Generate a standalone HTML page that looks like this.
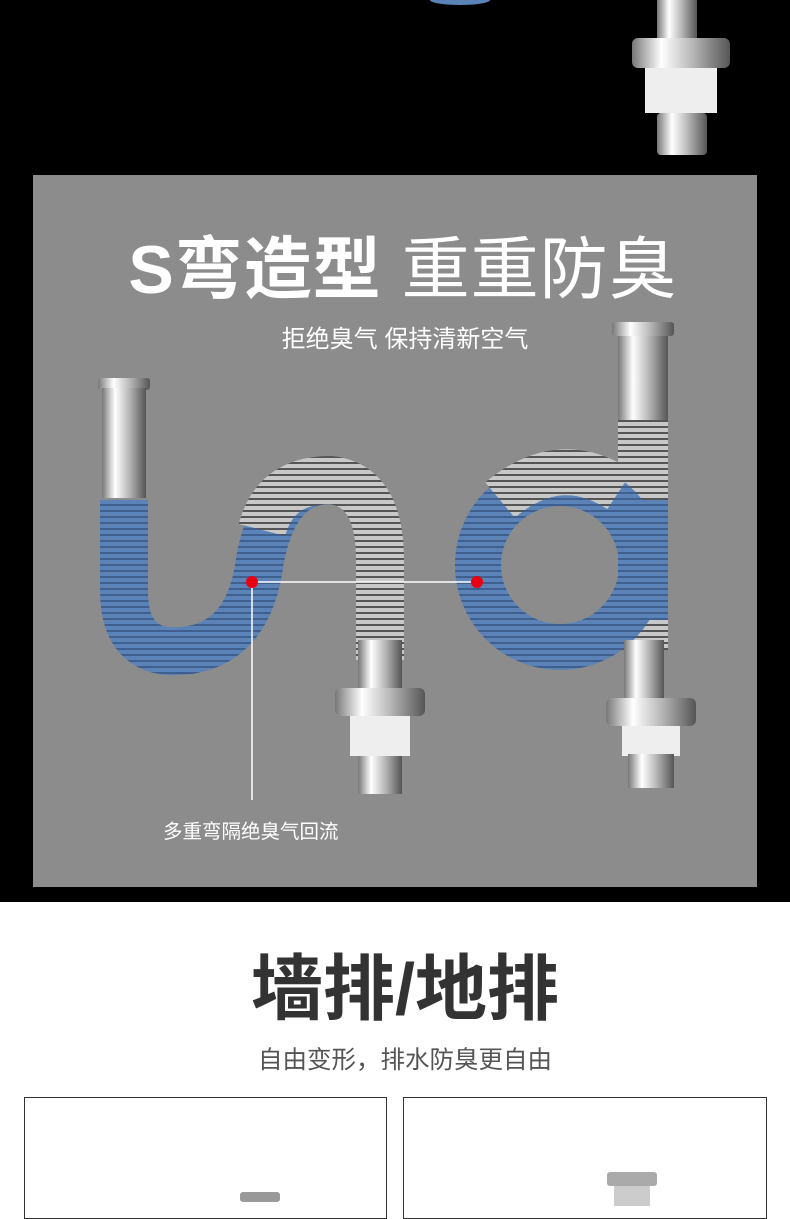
<!DOCTYPE html>
<html><head><meta charset="utf-8"><style>
body{margin:0;width:790px;height:1200px;overflow:hidden;background:#fff;font-family:"Liberation Sans","Noto Sans CJK SC",sans-serif;position:relative}
.abs{position:absolute}
</style></head><body>
<div class="abs" style="left:0;top:0;width:790px;height:902px;background:#000"></div>
<div class="abs" style="left:33px;top:175px;width:724px;height:712px;background:#8c8c8c"></div>
<svg class="abs" style="left:0;top:0" width="790" height="902">
<defs>
<linearGradient id="ch" x1="0" x2="1"><stop offset="0" stop-color="#777"/><stop offset=".3" stop-color="#fff"/><stop offset=".6" stop-color="#bbb"/><stop offset="1" stop-color="#555"/></linearGradient>
<pattern id="rib" width="6" height="6" patternUnits="userSpaceOnUse"><rect width="6" height="6" fill="#5b83b8"/><rect width="6" height="2" fill="#3f5f8f"/></pattern>
<pattern id="ribg" width="6" height="6" patternUnits="userSpaceOnUse"><rect width="6" height="6" fill="#c8c8c8"/><rect width="6" height="2" fill="#555"/></pattern>
</defs>
<ellipse cx="460" cy="0" rx="30" ry="5" fill="#5b83b8"/>
<rect x="657" y="0" width="40" height="40" fill="url(#ch)"/>
<rect x="632" y="38" width="98" height="30" rx="6" fill="url(#ch)"/>
<rect x="645" y="68" width="72" height="45" fill="#eee"/>
<rect x="657" y="113" width="50" height="42" rx="4" fill="url(#ch)"/>
<rect x="98" y="378" width="52" height="12" rx="3" fill="url(#ch)"/>
<rect x="102" y="388" width="44" height="110" fill="url(#ch)"/>
<path d="M124 500 L124 590 Q124 660 190 650 Q250 640 260 560 Q275 480 330 480 Q380 485 380 560 L380 660" fill="none" stroke="url(#rib)" stroke-width="48"/>
<path d="M262 530 Q275 480 330 480 Q380 485 380 560 L380 660" fill="none" stroke="url(#ribg)" stroke-width="48"/>
<rect x="358" y="640" width="44" height="50" fill="url(#ch)"/>
<rect x="335" y="688" width="90" height="28" rx="6" fill="url(#ch)"/>
<rect x="350" y="716" width="60" height="40" fill="#eee"/>
<rect x="358" y="756" width="44" height="38" fill="url(#ch)"/>
<rect x="612" y="322" width="62" height="14" rx="3" fill="url(#ch)"/>
<rect x="618" y="336" width="50" height="90" fill="url(#ch)"/>
<rect x="618" y="420" width="50" height="230" fill="url(#ribg)"/>
<rect x="618" y="500" width="50" height="120" fill="url(#rib)"/>
<circle cx="560" cy="565" r="82" fill="none" stroke="url(#rib)" stroke-width="46"/>
<path d="M500 500 Q560 450 620 490" fill="none" stroke="url(#ribg)" stroke-width="46"/>
<rect x="624" y="640" width="40" height="60" fill="url(#ch)"/>
<rect x="606" y="698" width="90" height="28" rx="6" fill="url(#ch)"/>
<rect x="622" y="726" width="58" height="30" fill="#eee"/>
<rect x="628" y="754" width="46" height="34" fill="url(#ch)"/>
<line x1="252" y1="582" x2="477" y2="582" stroke="#fff" stroke-width="1.5"/>
<line x1="252" y1="582" x2="252" y2="800" stroke="#fff" stroke-width="1.5"/>
<circle cx="252" cy="582" r="6" fill="#e60012"/>
<circle cx="477" cy="582" r="6" fill="#e60012"/>
</svg>
<div class="abs" style="left:8px;width:790px;top:225px;text-align:center;color:#fff;font-size:68px;font-weight:bold;line-height:90px;letter-spacing:1px">S弯造型 <span style="font-weight:normal">重重防臭</span></div>
<div class="abs" style="left:0;width:810px;top:325px;text-align:center;color:#fff;font-size:24px;line-height:30px">拒绝臭气 保持清新空气</div>
<div class="abs" style="left:163px;top:820px;color:#fff;font-size:19.5px;line-height:24px">多重弯隔绝臭气回流</div>
<div class="abs" style="left:0;width:810px;top:945px;text-align:center;color:#333;font-size:72px;font-weight:bold;line-height:90px">墙排/地排</div>
<div class="abs" style="left:0;width:810px;top:1046px;text-align:center;color:#555;font-size:24.5px;line-height:30px">自由变形，排水防臭更自由</div>
<div class="abs" style="left:24px;top:1097px;width:361px;height:120px;border:1px solid #333"></div>
<div class="abs" style="left:403px;top:1097px;width:362px;height:120px;border:1px solid #333"></div>
<div class="abs" style="left:240px;top:1192px;width:40px;height:10px;background:#999;border-radius:3px"></div>
<div class="abs" style="left:607px;top:1172px;width:50px;height:14px;background:#aaa;border-radius:3px"></div>
<div class="abs" style="left:614px;top:1186px;width:36px;height:20px;background:#ccc"></div>
</body></html>
